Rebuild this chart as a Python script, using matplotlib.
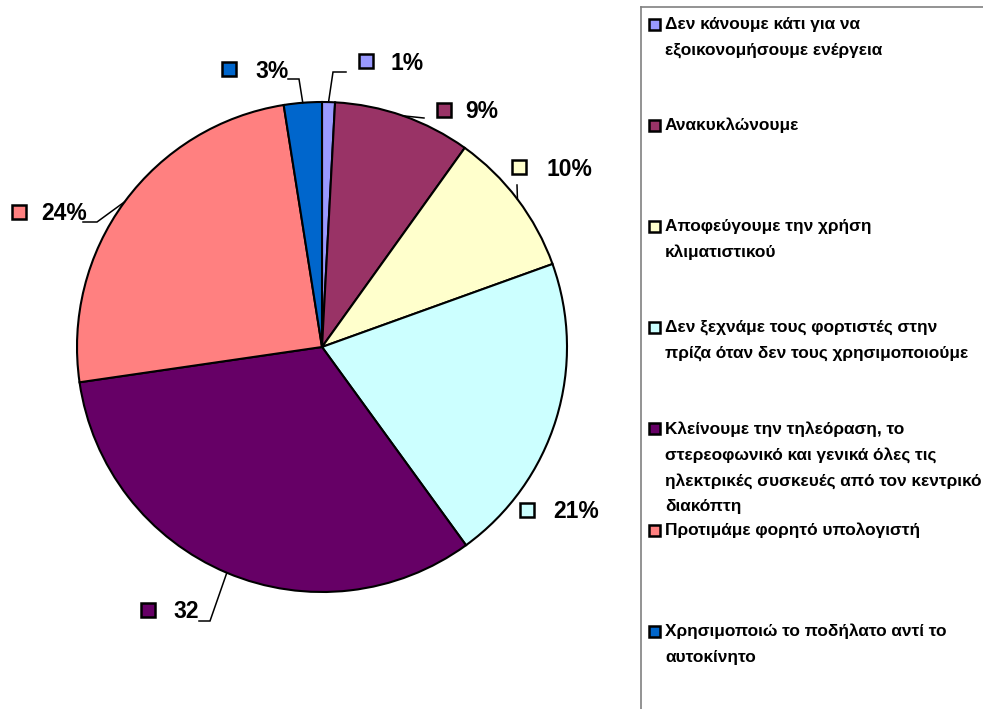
import numpy as np
import matplotlib
matplotlib.use("Agg")
import matplotlib.pyplot as plt
from matplotlib.patches import Rectangle
from matplotlib.lines import Line2D

plt.rcParams['font.family'] = ['Liberation Sans', 'DejaVu Sans']

# data (slice sizes, labels as printed)
categories = [
    "Δεν κάνουμε κάτι για να\nεξοικονομήσουμε ενέργεια",
    "Ανακυκλώνουμε",
    "Αποφεύγουμε την χρήση\nκλιματιστικού",
    "Δεν ξεχνάμε τους φορτιστές στην\nπρίζα όταν δεν τους χρησιμοποιούμε",
    "Κλείνουμε την τηλεόραση, το\nστερεοφωνικό και γενικά όλες τις\nηλεκτρικές συσκευές από τον κεντρικό\nδιακόπτη",
    "Προτιμάμε φορητό υπολογιστή",
    "Χρησιμοποιώ το ποδήλατο αντί το\nαυτοκίνητο",
]
values = [0.85, 9.05, 9.6, 20.5, 32.7, 24.8, 2.5]
value_labels = ["1%", "9%", "10%", "21%", "32", "24%", "3%"]
colors = ["#9999FF", "#993366", "#FFFFCC", "#CCFFFF", "#660066", "#FF8080", "#0066CC"]

W, H = 983, 709
fig = plt.figure(figsize=(W / 100, H / 100), dpi=100)
ax = fig.add_axes([0, 0, 1, 1])

cx, cy, r = 322, H - 347, 245
ax.pie(values, colors=colors, startangle=90, counterclock=False,
       center=(cx, cy), radius=r,
       wedgeprops=dict(edgecolor="black", linewidth=1.5))
ax.set_xlim(0, W)
ax.set_ylim(0, H)
ax.set_aspect('equal')
ax.axis('off')

# label layout in pixels (top-left origin): marker centre, text left/y, leader path
label_layout = [
    dict(m=(366, 61), t=(391, 63), path=[(333, 72), (346, 72)]),
    dict(m=(444, 110), t=(465, 112), path=[(424, 118)]),
    dict(m=(519, 167), t=(547, 169), path=[(517, 185)]),
    dict(m=(527, 510), t=(553, 512), path=None),
    dict(m=(148, 610), t=(173, 612), path=[(210, 621), (199, 621)]),
    dict(m=(19, 212), t=(41, 213), path=[(97, 222), (83, 222)]),
    dict(m=(229, 69), t=(255, 72), path=[(299, 79), (288, 79)]),
]

total = float(sum(values))
cum = np.cumsum([0] + values)
msz = 14
for i, lay in enumerate(label_layout):
    mid = 90 - 360 * (cum[i] + values[i] / 2) / total
    ex = cx + r * np.cos(np.radians(mid))
    ey = cy + r * np.sin(np.radians(mid))
    if lay['path']:
        xs = [ex] + [p[0] for p in lay['path']]
        ys = [ey] + [H - p[1] for p in lay['path']]
        ax.plot(xs, ys, color="black", lw=1.1, solid_joinstyle='miter')
    mx, my = lay['m']
    ax.add_patch(Rectangle((mx - msz / 2, H - my - msz / 2), msz, msz,
                           facecolor=colors[i], edgecolor="black", lw=1.8))
    ax.text(lay['t'][0], H - lay['t'][1], value_labels[i], fontsize=16.5,
            fontweight='bold', ha='left', va='center')

# legend frame
fig.add_artist(Line2D([641 / W, 641 / W], [0, 1 - 7 / H], color="#808080", lw=1.2,
                      transform=fig.transFigure))
fig.add_artist(Line2D([641 / W, 1], [1 - 7 / H, 1 - 7 / H], color="#808080", lw=1.2,
                      transform=fig.transFigure))

# legend entries
lsz = 11
for i, cat in enumerate(categories):
    y0 = 24 + 101.2 * i
    ax.add_patch(Rectangle((654 - lsz / 2, H - y0 - lsz / 2), lsz, lsz,
                           facecolor=colors[i], edgecolor="black", lw=1.8))
    for j, line in enumerate(cat.split("\n")):
        ax.text(665, H - y0 - 26 * j, line, fontsize=12.4, fontweight='bold',
                ha='left', va='center', clip_on=False)

fig.savefig("out.png", dpi=100)
